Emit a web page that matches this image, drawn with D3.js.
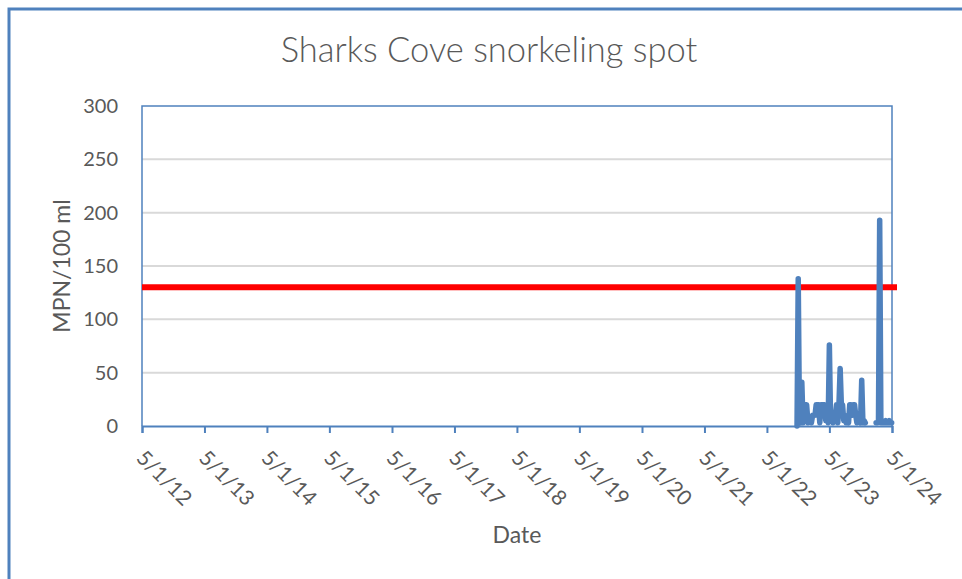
<!DOCTYPE html>
<html>
<head>
<meta charset="utf-8">
<script src="https://cdn.jsdelivr.net/npm/d3@7"></script>
<style>
body { margin:0; background:#fff; }
text { font-family: Lato, "Open Sans", sans-serif; fill:#595959; }
</style>
</head>
<body>
<script>
var width = 962, height = 579;

// weekly samples, MPN/100 ml (null = no sample, gap in line)
var sampleDates = [
  "2022-10-24","2022-10-31","2022-11-07","2022-11-14","2022-11-21","2022-11-28","2022-12-05","2022-12-12","2022-12-19","2022-12-27",
  "2023-01-09",
  "2023-01-16","2023-01-23","2023-01-30","2023-02-06","2023-02-13","2023-02-20","2023-02-27","2023-03-06","2023-03-13","2023-03-20",
  "2023-03-27","2023-04-03","2023-04-10","2023-04-17","2023-04-24","2023-05-01","2023-05-08","2023-05-15","2023-05-22","2023-05-29",
  "2023-06-05","2023-06-12","2023-06-19","2023-06-26","2023-07-03","2023-07-10","2023-07-17","2023-07-24","2023-07-31","2023-08-07",
  "2023-08-14","2023-08-21","2023-08-28","2023-09-04","2023-09-11","2023-09-18","2023-09-25","2023-10-02","2023-10-09","2023-10-16",
  "2023-10-23","2023-10-30","2023-11-06","2023-11-13","2023-11-20","2023-11-27",
  "2024-01-01",
  "2024-01-29","2024-02-05","2024-02-12","2024-02-19","2024-02-26","2024-03-04","2024-03-11","2024-03-18","2024-03-25","2024-04-01",
  "2024-04-08","2024-04-15","2024-04-22","2024-04-29"];
var sampleValues = [
  0,138,5,3,41,3,20,20,20,3,
  null,
  3,10,10,10,20,20,20,3,20,20,
  20,20,5,10,3,76,5,10,3,10,
  10,20,3,20,54,20,20,5,10,3,
  5,3,20,20,10,20,20,10,3,10,
  5,3,43,3,5,3,
  null,
  3,3,5,193,3,5,3,3,5,3,
  3,5,3,3];
var standard = 130;
var yTicks = [0,50,100,150,200,250,300];
var xTickLabels = ["5/1/12","5/1/13","5/1/14","5/1/15","5/1/16","5/1/17","5/1/18","5/1/19","5/1/20","5/1/21","5/1/22","5/1/23","5/1/24"];

var parse = d3.timeParse("%Y-%m-%d");
var tickParse = d3.timeParse("%m/%d/%y");
var data = sampleDates.map(function(d, i){
    return {date: parse(d), value: sampleValues[i]};
});

var svg = d3.select("body").append("svg")
.attr("width", width)
.attr("height", height)
.attr("id","svg");

// chart frame (left and top edges visible)
svg.append("rect")
.attr("x", 9).attr("y", 9)
.attr("width", 1000).attr("height", 1000)
.attr("fill","none")
.attr("stroke","#4f81bd")
.attr("stroke-width",3);

var plotLeft = 142, plotRight = 892, plotTop = 106, plotBottom = 426;

var x = d3.scaleTime()
.domain([tickParse(xTickLabels[0]), tickParse(xTickLabels[xTickLabels.length-1])])
.range([plotLeft, plotRight]);
var y = d3.scaleLinear().domain([0,300]).range([plotBottom, plotTop]);

// title
svg.append("text")
.attr("x", 489).attr("y", 62)
.attr("text-anchor","middle")
.style("font-size","34.5px")
.style("font-weight","300")
.text("Sharks Cove snorkeling spot");

// gridlines
svg.append("g").selectAll("line")
.data(yTicks.filter(function(d){ return d > 0 && d < 300; }))
.enter().append("line")
.attr("x1", plotLeft).attr("x2", plotRight)
.attr("y1", function(d){ return y(d); })
.attr("y2", function(d){ return y(d); })
.attr("stroke","#d9d9d9")
.attr("stroke-width",2);

// plot border
svg.append("path")
.attr("d", "M"+plotLeft+","+plotBottom+"V"+plotTop+"H"+plotRight+"V"+plotBottom)
.attr("fill","none")
.attr("stroke","#4f81bd")
.attr("stroke-width",1.5);

// y labels
svg.append("g").selectAll("text")
.data(yTicks)
.enter().append("text")
.attr("x", 118)
.attr("y", function(d){ return y(d) + 7; })
.attr("text-anchor","end")
.style("font-size","20px")
.text(function(d){ return d; });

// x axis
var xAxis = d3.axisBottom(x)
.tickValues(xTickLabels.map(tickParse))
.tickFormat(function(d, i){ return xTickLabels[i]; })
.tickSize(7);
var gx = svg.append("g")
.attr("transform","translate(0,"+plotBottom+")")
.call(xAxis);
gx.select(".domain").attr("stroke","#4f81bd").attr("stroke-width",2);
gx.selectAll(".tick line").attr("stroke","#4f81bd").attr("stroke-width",2);
gx.selectAll(".tick text")
.attr("fill","#595959")
.style("font-size","21px")
.style("font-family","Lato, 'Open Sans', sans-serif")
.attr("text-anchor","start")
.attr("transform","translate(-2,28) rotate(45)")
.attr("y",0).attr("dy","0.35em").attr("x",0);

// standard line
svg.append("line")
.attr("x1", plotLeft).attr("x2", plotRight + 5)
.attr("y1", y(standard)).attr("y2", y(standard))
.attr("stroke","#ff0000")
.attr("stroke-width",6);

// data line
var line = d3.line()
.defined(function(d){ return d.value !== null; })
.x(function(d){ return x(d.date); })
.y(function(d){ return y(d.value); });
svg.append("path")
.datum(data)
.attr("d", line)
.attr("fill","none")
.attr("stroke","#4f81bd")
.attr("stroke-width",5.5)
.attr("stroke-linejoin","round")
.attr("stroke-linecap","round");

// axis titles
svg.append("text")
.attr("transform","translate(70,266) rotate(-90)")
.attr("text-anchor","middle")
.style("font-size","23px")
.text("MPN/100 ml");
svg.append("text")
.attr("x", 517).attr("y", 543)
.attr("text-anchor","middle")
.style("font-size","23px")
.text("Date");
</script>
</body>
</html>
